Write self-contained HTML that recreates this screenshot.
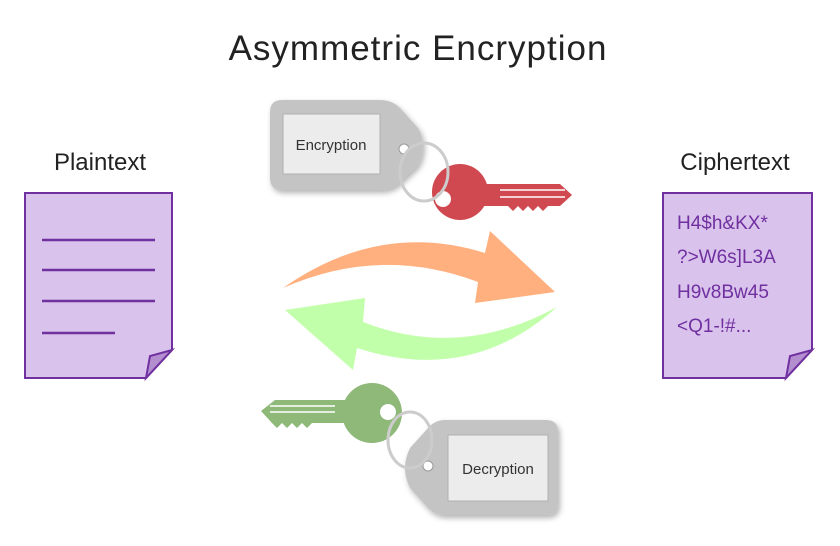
<!DOCTYPE html>
<html><head><meta charset="utf-8"><style>
html,body{margin:0;padding:0;background:#fff;}
svg{display:block;}
text{font-family:"Liberation Sans",sans-serif;}
</style></head><body>
<svg width="840" height="546" viewBox="0 0 840 546" xmlns="http://www.w3.org/2000/svg">
<defs>
<filter id="sh" x="-20%" y="-20%" width="140%" height="140%"><feDropShadow dx="2" dy="3" stdDeviation="3" flood-color="#000" flood-opacity="0.3"/></filter>
</defs>
<text x="418" y="60" text-anchor="middle" font-size="35" fill="#222" letter-spacing="1">Asymmetric Encryption</text>
<text x="100" y="170" text-anchor="middle" font-size="24" fill="#222">Plaintext</text>
<text x="735" y="170" text-anchor="middle" font-size="24" fill="#222">Ciphertext</text>

<path d="M25,193 H172 V350 L146,378 H25 Z" fill="#d9c2ec" stroke="#7030a0" stroke-width="2"/>
<path d="M146,378 L150,356 L172,350 Z" fill="#b48fd0" stroke="#7030a0" stroke-width="2"/>
<g stroke="#7030a0" stroke-width="2.5">
<line x1="42" y1="240" x2="155" y2="240"/><line x1="42" y1="270" x2="155" y2="270"/>
<line x1="42" y1="301" x2="155" y2="301"/><line x1="42" y1="333" x2="115" y2="333"/></g>

<path d="M663,193 H812 V350 L786,378 H663 Z" fill="#d9c2ec" stroke="#7030a0" stroke-width="2"/>
<path d="M786,378 L790,356 L812,350 Z" fill="#b48fd0" stroke="#7030a0" stroke-width="2"/>
<g fill="#7030a0" font-size="19">
<text x="677" y="229">H4$h&amp;KX*</text><text x="677" y="263">?&gt;W6s]L3A</text>
<text x="677" y="298">H9v8Bw45</text><text x="677" y="332">&lt;Q1-!#...</text></g>

<path d="M283,288 Q380,220 485,253 L490,231 L555,292 L475,303 L478,282 Q380,245 283,288 Z" fill="#ffb07e"/>
<path d="M557,307 Q460,360 363,322 L365,298 L285,310 L353,370 L357,348 Q470,385 557,307 Z" fill="#c2ffaa"/>

<!-- Encryption tag -->
<path d="M282,100 H380 Q392,100 400,108 L418,128 Q428,145 418,165 L400,182 Q392,190 380,190 H282 Q270,190 270,178 V112 Q270,100 282,100 Z" fill="#c4c4c4" filter="url(#sh)"/>
<rect x="283" y="114" width="97" height="60" fill="#ececec" stroke="#b0b0b0"/>
<text x="331" y="150" text-anchor="middle" font-size="15" fill="#333">Encryption</text>
<circle cx="404" cy="149" r="5" fill="#fff" stroke="#999"/>
<!-- red key -->
<path d="M480,184 H560 L572,195 L560,206 H548 L543,211 L538,206 L533,211 L528,206 L523,211 L518,206 L513,211 L508,206 H480 Z" fill="#d04850"/>
<line x1="500" y1="190" x2="565" y2="190" stroke="#fff" stroke-width="1.5"/><line x1="500" y1="197" x2="565" y2="197" stroke="#fff" stroke-width="1.5"/>
<circle cx="460" cy="192" r="28" fill="#d04850"/>
<circle cx="443" cy="199" r="8" fill="#fff"/>
<ellipse cx="424" cy="172" rx="24" ry="29" fill="none" stroke="#ccc" stroke-width="3"/>

<!-- Decryption tag -->
<path d="M445,420 H546 Q558,420 558,432 V503 Q558,515 546,515 H445 Q435,515 428,508 L410,488 Q400,468 410,448 L428,428 Q435,420 445,420 Z" fill="#c4c4c4" filter="url(#sh)"/>
<rect x="448" y="435" width="100" height="66" fill="#ececec" stroke="#b0b0b0"/>
<text x="498" y="474" text-anchor="middle" font-size="15" fill="#333">Decryption</text>
<circle cx="428" cy="466" r="5" fill="#fff" stroke="#999"/>
<!-- green key -->
<path d="M345,400 H275 L261,411 L272,423 L277,428 L282,423 L287,428 L292,423 L297,428 L302,423 L307,428 L312,423 H345 Z" fill="#8fb978"/>
<line x1="270" y1="406" x2="335" y2="406" stroke="#fff" stroke-width="1.5"/><line x1="270" y1="412" x2="335" y2="412" stroke="#fff" stroke-width="1.5"/>
<circle cx="372" cy="413" r="30" fill="#8fb978"/>
<circle cx="388" cy="412" r="8" fill="#fff"/>
<ellipse cx="410" cy="440" rx="22" ry="28" fill="none" stroke="#ccc" stroke-width="3"/>
</svg>
</body></html>
